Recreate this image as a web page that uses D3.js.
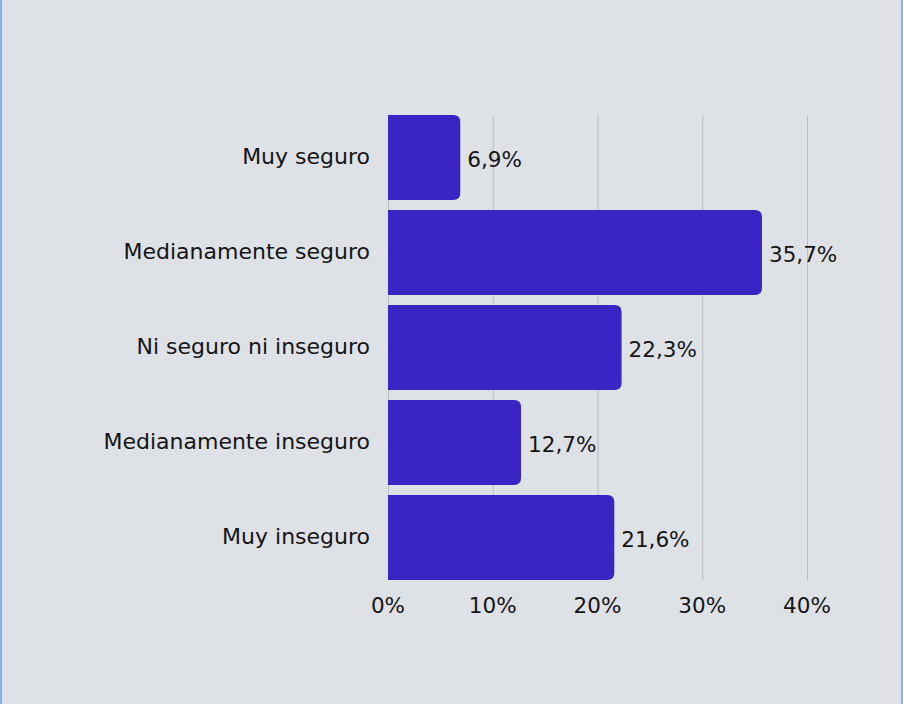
<!DOCTYPE html>
<html>
<head>
<meta charset="utf-8">
<script src="https://cdn.jsdelivr.net/npm/d3@7"></script>
<style>
  html, body { margin: 0; padding: 0; }
  body { width: 903px; height: 704px; background: #dee1e6; overflow: hidden; }
  #frame { position: absolute; left: 0; top: 0; width: 899px; height: 704px;
           border-left: 2px solid #8aaaff; border-right: 2px solid #8aaaff; }
  text { font-family: "DejaVu Sans", sans-serif; fill: #151515; }
</style>
</head>
<body>
<div id="frame"></div>
<svg id="chart" width="903" height="704" style="position:absolute;left:0;top:0"></svg>
<script>
// categories and shares (percent)
const categories = ["Muy seguro", "Medianamente seguro", "Ni seguro ni inseguro", "Medianamente inseguro", "Muy inseguro"];
const values = [6.9, 35.7, 22.3, 12.7, 21.6];
const tickValues = [0, 10, 20, 30, 40];
const tickLabels = ["0%", "10%", "20%", "30%", "40%"];

const rows = categories.map((c, i) => ({ label: c, value: values[i] }));

const svg = d3.select("#chart");

const x = d3.scaleLinear().domain([0, 40]).range([388, 807]);
const y = d3.scaleBand().domain(categories).range([115, 580]).paddingInner(10 / 95).paddingOuter(0);

// vertical grid lines
svg.selectAll(".grid")
  .data(tickValues)
  .join("line")
    .attr("class", "grid")
    .attr("x1", d => x(d) + 0.5).attr("x2", d => x(d) + 0.5)
    .attr("y1", 115).attr("y2", 580)
    .attr("stroke", "#b9bcc1").attr("stroke-width", 1);

// bars, rounded on the right side only
const r = 7;
function barPath(d) {
  const x0 = x(0), x1 = x(d.value), y0 = y(d.label), h = y.bandwidth();
  return `M${x0},${y0} H${x1 - r} Q${x1},${y0} ${x1},${y0 + r} V${y0 + h - r} Q${x1},${y0 + h} ${x1 - r},${y0 + h} H${x0} Z`;
}
svg.selectAll(".bar")
  .data(rows)
  .join("path")
    .attr("class", "bar")
    .attr("d", barPath)
    .attr("fill", "#3a24c4");

// value labels
const fmt = v => v.toFixed(1).replace(".", ",") + "%";
svg.selectAll(".val")
  .data(rows)
  .join("text")
    .attr("class", "val")
    .attr("x", d => x(d.value) + 7)
    .attr("y", d => y(d.label) + y.bandwidth() / 2 + 9)
    .attr("font-size", 21.5)
    .text(d => fmt(d.value));

// category labels
svg.selectAll(".cat")
  .data(rows)
  .join("text")
    .attr("class", "cat")
    .attr("x", 370)
    .attr("y", d => y(d.label) + y.bandwidth() / 2 + 6)
    .attr("text-anchor", "end")
    .attr("font-size", 22)
    .text(d => d.label);

// x tick labels
svg.selectAll(".tick-label")
  .data(tickValues)
  .join("text")
    .attr("class", "tick-label")
    .attr("x", d => x(d))
    .attr("y", 613)
    .attr("text-anchor", "middle")
    .attr("font-size", 21.5)
    .text((d, i) => tickLabels[i]);
</script>
</body>
</html>
